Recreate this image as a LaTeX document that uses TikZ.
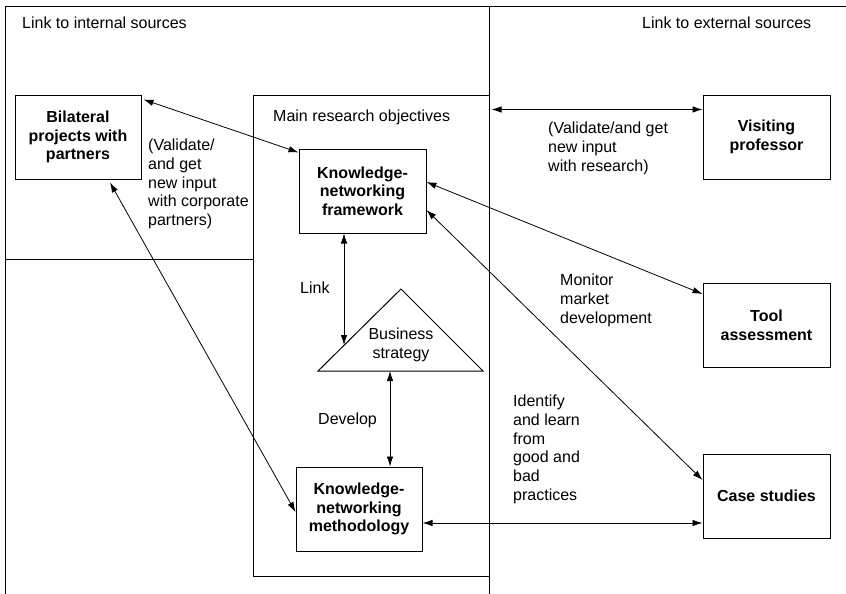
\documentclass[tikz,border=0pt]{standalone}
\usepackage{fontspec}
\setmainfont{Liberation Sans}
\usetikzlibrary{arrows.meta,calc}
\begin{document}
\begin{tikzpicture}[x=1pt,y=-1pt,
  every node/.style={font=\fontsize{16}{18.7}\selectfont},
  box/.style={draw,line width=1pt,minimum width=127pt,minimum height=84pt,align=center,inner sep=0pt,font=\fontsize{16}{18.7}\selectfont\bfseries},
  txt/.style={align=left,inner sep=0pt,anchor=west},
  dbl/.style={{Latex[length=10pt,width=6.5pt]}-{Latex[length=10pt,width=6.5pt]},line width=0.8pt},
  frame/.style={line width=1pt}]
\useasboundingbox (0,0) rectangle (846,594);
% frames
\draw[frame] (5,594) -- (5,7) -- (846,7);
\draw[frame] (489,7) -- (489,594);
\draw[frame] (5,259) -- (253,259);
\node[draw,line width=1pt,minimum width=236pt,minimum height=481pt,inner sep=0pt] (main) at (371,335.5) {};
% headings
\node[txt] (lint) at (22,23) {Link to internal sources};
\node[txt] (lext) at (642,23) {Link to external sources};
\node[txt] (mro) at (273,117) {Main research objectives};
% boxes
\node[box,minimum width=126pt] (bil) at (78,137) {Bilateral\\projects with\\partners};
\node[box] (fw) at (362.5,191) {Knowledge-\\networking\\framework};
\node[box] (vp) at (766.5,137) {Visiting\\professor};
\node[box] (tool) at (766.5,325) {Tool\\assessment};
\node[box] (case) at (766.5,496) {Case studies};
\node[box,minimum width=126pt] (meth) at (359,509) {Knowledge-\\networking\\methodology};
% triangle
\coordinate (ta) at (401,289);
\coordinate (tl) at (318,371);
\coordinate (tr) at (483,371);
\draw[line width=1pt,line join=miter] (ta) -- (tl) -- (tr) -- cycle;
\node[align=center,inner sep=0pt] (bs) at (401,345) {Business\\strategy};
% labels
\node[txt] (l1) at (148,184) {(Validate/\\and get\\new input\\with corporate\\partners)};
\node[txt] (l2) at (548,148.5) {(Validate/and get\\new input\\with research)};
\node[txt] (l3) at (560,300.5) {Monitor\\market\\development};
\node[txt] (l4) at (513,449.5) {Identify\\and learn\\from\\good and\\bad\\practices};
\node[txt] (l5) at (300,288) {Link};
\node[txt] (l6) at (318,420) {Develop};
% connectors
\draw[dbl] ([shift={(2pt,-5pt)}]bil.north east) -- ([yshift=-4pt]fw.north west);
\draw[dbl] ([shift={(32pt,-3pt)}]bil.south) -- ([yshift=-3pt]meth.west);
\coordinate (lk) at (344,345);
\draw[dbl] ([xshift=-18.5pt]fw.south) -- (lk);
\coordinate (tb) at (390,371);
\draw[dbl] (tb) -- ([xshift=31pt]meth.north);
\coordinate (m5) at ([yshift=-15pt]main.north east);
\draw[dbl] ([xshift=2pt]m5) -- (vp.west |- m5);
\draw[dbl] ([yshift=9pt]fw.east) -- ([yshift=31pt]tool.west);
\draw[dbl] ([yshift=-19pt]fw.east) -- ([yshift=16pt]case.west);
\coordinate (m8) at ([yshift=-14pt]meth.east);
\draw[dbl] (m8) -- (case.west |- m8);
\end{tikzpicture}
\end{document}
